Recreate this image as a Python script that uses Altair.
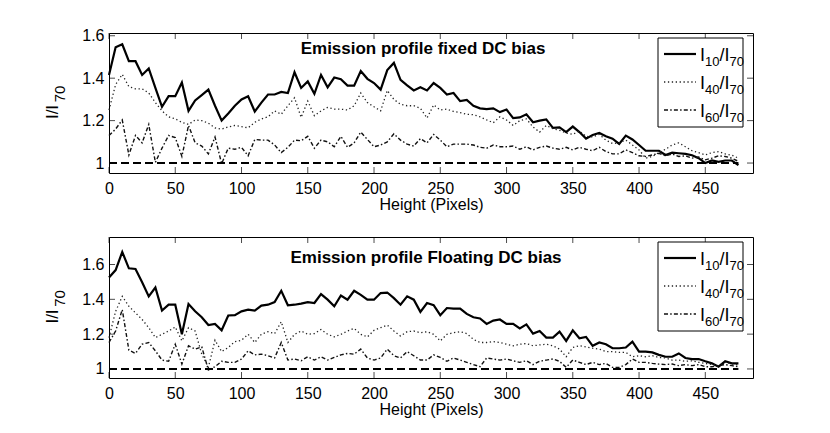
import altair as alt
import pandas as pd

FONT = "Liberation Sans"

HEIGHT = [0, 5, 10, 15, 20, 25, 30, 35, 40, 45, 50, 55, 60, 65, 70, 75, 80, 85, 90, 95,
          100, 105, 110, 115, 120, 125, 130, 135, 140, 145, 150, 155, 160, 165, 170, 175,
          180, 185, 190, 195, 200, 205, 210, 215, 220, 225, 230, 235, 240, 245, 250, 255,
          260, 265, 270, 275, 280, 285, 290, 295, 300, 305, 310, 315, 320, 325, 330, 335,
          340, 345, 350, 355, 360, 365, 370, 375, 380, 385, 390, 395, 400, 405, 410, 415,
          420, 425, 430, 435, 440, 445, 450, 455, 460, 465, 470, 475]

TOP_I10 = [1.415, 1.546, 1.56, 1.48, 1.48, 1.415, 1.446, 1.354, 1.265, 1.315,
           1.315, 1.38, 1.246, 1.295, 1.32, 1.346, 1.27, 1.2, 1.234, 1.27,
           1.3, 1.315, 1.243, 1.285, 1.323, 1.323, 1.335, 1.33, 1.428, 1.354,
           1.385, 1.326, 1.415, 1.357, 1.403, 1.395, 1.365, 1.365, 1.434, 1.397,
           1.377, 1.346, 1.438, 1.472, 1.392, 1.366, 1.342, 1.357, 1.342, 1.377,
           1.354, 1.323, 1.33, 1.292, 1.297, 1.27, 1.258, 1.254, 1.258, 1.24,
           1.252, 1.212, 1.215, 1.23, 1.192, 1.2, 1.206, 1.166, 1.168, 1.146,
           1.172, 1.146, 1.115, 1.132, 1.142, 1.126, 1.115, 1.09, 1.129, 1.111,
           1.085, 1.058, 1.058, 1.058, 1.038, 1.049, 1.046, 1.043, 1.037, 1.023,
           1.0, 1.012, 1.006, 1.012, 1.012, 0.99]
TOP_I40 = [1.25, 1.37, 1.418, 1.36, 1.35, 1.35, 1.33, 1.285, 1.246, 1.218,
           1.208, 1.192, 1.182, 1.203, 1.2, 1.188, 1.166, 1.16, 1.17, 1.177,
           1.172, 1.166, 1.192, 1.208, 1.218, 1.246, 1.23, 1.27, 1.308, 1.215,
           1.292, 1.223, 1.246, 1.262, 1.254, 1.254, 1.25, 1.27, 1.33, 1.285,
           1.265, 1.246, 1.342, 1.3, 1.277, 1.27, 1.27, 1.258, 1.212, 1.274,
           1.25, 1.254, 1.243, 1.238, 1.23, 1.228, 1.218, 1.203, 1.19, 1.218,
           1.203, 1.177, 1.2, 1.208, 1.17, 1.146, 1.177, 1.162, 1.154, 1.142,
           1.135, 1.151, 1.126, 1.123, 1.135, 1.108, 1.092, 1.095, 1.108, 1.085,
           1.062, 1.023, 1.031, 1.049, 1.065, 1.085, 1.095, 1.077, 1.058, 1.049,
           1.038, 1.049, 1.054, 1.043, 1.037, 1.023]
TOP_I60 = [1.13, 1.16, 1.203, 1.038, 1.13, 1.095, 1.182, 1.003, 1.07, 1.13,
           1.12, 1.031, 1.177, 1.095, 1.08, 1.043, 1.123, 0.997, 1.07, 1.065,
           1.074, 1.034, 1.111, 1.108, 1.108, 1.085, 1.049, 1.074, 1.108, 1.105,
           1.126, 1.07, 1.108, 1.1, 1.077, 1.126, 1.074, 1.095, 1.146, 1.111,
           1.077, 1.085, 1.1, 1.138, 1.108, 1.089, 1.08, 1.115, 1.095, 1.135,
           1.108, 1.077, 1.089, 1.089, 1.089, 1.085, 1.074, 1.07, 1.085, 1.077,
           1.077, 1.08, 1.065, 1.077, 1.062, 1.074, 1.08, 1.07, 1.065, 1.074,
           1.062, 1.074, 1.065, 1.058, 1.074, 1.054, 1.043, 1.043, 1.062, 1.049,
           1.034, 1.031, 1.038, 1.046, 1.034, 1.043, 1.031, 1.034, 1.023, 1.028,
           1.015, 1.023, 1.034, 1.031, 1.023, 1.008]

BOT_I10 = [1.525, 1.568, 1.672, 1.578, 1.574, 1.498, 1.417, 1.468, 1.335, 1.369,
           1.369, 1.199, 1.373, 1.331, 1.297, 1.252, 1.259, 1.222, 1.307, 1.309,
           1.331, 1.341, 1.335, 1.364, 1.369, 1.384, 1.449, 1.366, 1.369, 1.375,
           1.384, 1.379, 1.43, 1.398, 1.36, 1.422, 1.398, 1.449, 1.426, 1.398,
           1.398, 1.436, 1.439, 1.407, 1.369, 1.417, 1.398, 1.328, 1.379, 1.366,
           1.309, 1.35, 1.347, 1.347, 1.316, 1.297, 1.29, 1.259, 1.278, 1.284,
           1.259, 1.259, 1.233, 1.256, 1.203, 1.218, 1.18, 1.18, 1.214, 1.161,
           1.222, 1.176, 1.184, 1.133, 1.152, 1.142, 1.119, 1.119, 1.123, 1.157,
           1.1, 1.1, 1.095, 1.081, 1.07, 1.07, 1.089, 1.063, 1.057, 1.057,
           1.044, 1.032, 1.013, 1.044, 1.032, 1.032]
BOT_I40 = [1.18, 1.331, 1.417, 1.36, 1.322, 1.284, 1.237, 1.18, 1.199, 1.218,
           1.241, 1.161, 1.237, 1.218, 1.085, 1.009, 1.165, 1.1, 1.123, 1.157,
           1.165, 1.199, 1.152, 1.199, 1.214, 1.203, 1.271, 1.152, 1.199, 1.218,
           1.199, 1.203, 1.227, 1.199, 1.184, 1.199, 1.218, 1.233, 1.199, 1.184,
           1.222, 1.237, 1.252, 1.218, 1.189, 1.214, 1.218, 1.208, 1.214, 1.199,
           1.161, 1.199, 1.208, 1.214, 1.203, 1.17, 1.152, 1.152, 1.157, 1.152,
           1.142, 1.133, 1.142, 1.146, 1.133, 1.138, 1.142, 1.133, 1.114, 1.07,
           1.123, 1.133, 1.127, 1.119, 1.114, 1.1, 1.1, 1.095, 1.095, 1.07,
           1.076, 1.07, 1.076, 1.066, 1.063, 1.051, 1.051, 1.044, 1.047, 1.038,
           1.032, 1.025, 1.019, 1.038, 1.028, 1.025]
BOT_I60 = [1.152, 1.218, 1.341, 1.108, 1.089, 1.142, 1.152, 1.104, 1.051, 1.044,
           1.142, 1.028, 1.133, 1.114, 1.127, 0.994, 1.013, 1.044, 1.038, 1.038,
           1.057, 1.104, 1.081, 1.085, 1.076, 1.063, 1.152, 1.051, 1.057, 1.047,
           1.07, 1.051, 1.07, 1.051, 1.066, 1.081, 1.089, 1.085, 1.114, 1.063,
           1.051, 1.063, 1.114, 1.076, 1.063, 1.1, 1.076, 1.051, 1.051, 1.081,
           1.066, 1.044, 1.063, 1.051, 1.038, 1.025, 1.013, 1.063, 1.057, 1.051,
           1.057, 1.047, 1.038, 1.047, 1.025, 1.044, 1.051, 1.057, 1.044, 1.009,
           1.051, 1.038, 1.025, 1.038, 1.025, 1.032, 1.009, 1.009, 1.025, 1.057,
           1.038, 1.038, 1.032, 1.028, 1.025, 1.028, 1.019, 1.025, 1.019, 1.025,
           1.013, 1.013, 1.019, 1.025, 1.019, 1.013]

REF_X = [0, 475]
REF_Y = [1, 1]
X_TICKS = [0, 50, 100, 150, 200, 250, 300, 350, 400, 450]
Y_TICKS = [1, 1.2, 1.4, 1.6]
SERIES = ["I10", "I40", "I60"]
TITLES = ["Emission profile fixed DC bias", "Emission profile Floating DC bias"]

W = 644
ONE = pd.DataFrame({"a": [0]})

STYLES = {
    "I10": dict(color="black", strokeWidth=2.2),
    "I40": dict(color="#222222", strokeWidth=1.3, strokeDash=[1.3, 2.6]),
    "I60": dict(color="#111111", strokeWidth=1.4, strokeDash=[4, 2.2, 1.5, 2.2]),
}


def txt(s, x, y, size=16, weight="normal", align="left", angle=0):
    return alt.Chart(ONE).mark_text(
        text=s, font=FONT, fontSize=size, fontWeight=weight, align=align,
        baseline="alphabetic", angle=angle, color="black"
    ).encode(x=alt.value(x), y=alt.value(y))


def panel(values, title, ydom, H, title_x, title_y):
    df = pd.DataFrame({
        "x": HEIGHT * 3,
        "v": values[0] + values[1] + values[2],
        "s": [SERIES[0]] * len(HEIGHT) + [SERIES[1]] * len(HEIGHT) + [SERIES[2]] * len(HEIGHT),
    })
    xs = alt.Scale(domain=[0, 486], nice=False, zero=False)
    ys = alt.Scale(domain=ydom, nice=False, zero=False)
    xax = alt.Axis(values=X_TICKS, ticks=False, domain=False, grid=False,
                   labelFont=FONT, labelFontSize=16, labelColor="black",
                   labelPadding=7, labelFlush=False,
                   title="Height (Pixels)", titleFont=FONT, titleFontSize=16,
                   titleFontWeight="normal", titleColor="black", titlePadding=0)
    yax = alt.Axis(values=Y_TICKS, ticks=False, domain=False, grid=False,
                   labelFont=FONT, labelFontSize=16, labelColor="black",
                   labelPadding=5, labelFlush=False, format=".1~f", title=None)
    X = alt.X("x:Q", scale=xs, axis=xax)
    Y = alt.Y("v:Q", scale=ys, axis=yax)
    layers = []
    for s in SERIES:
        layers.append(
            alt.Chart(df).transform_filter(f"datum.s == '{s}'").mark_line(**STYLES[s]).encode(x=X, y=Y)
        )
    ref = alt.Chart(pd.DataFrame({"x": REF_X, "v": REF_Y})).mark_line(
        color="black", strokeWidth=2, strokeDash=[8, 4]
    ).encode(x=X, y=Y)
    layers.append(ref)

    # inward MATLAB-style ticks on all four sides
    xt = pd.DataFrame({"x": X_TICKS})
    yt = pd.DataFrame({"v": Y_TICKS})
    for yy in (H - 3, 3):
        layers.append(alt.Chart(xt).mark_tick(orient="vertical", size=6, thickness=1, color="black").encode(
            x=X, y=alt.value(yy)))
    for xx in (3, W - 3):
        layers.append(alt.Chart(yt).mark_tick(orient="horizontal", size=6, thickness=1, color="black").encode(
            y=Y, x=alt.value(xx)))

    # title inside the axes
    layers.append(txt(title, title_x, title_y, size=17, weight="bold", align="center"))

    # y-axis label I/I_70 (subscript shifted toward the axis)
    layers.append(txt("I/I", -51, H / 2 + 9, size=17, align="center", angle=270))
    layers.append(txt("70", -44, H / 2 - 9, size=15, align="center", angle=270))

    # legend box
    layers.append(alt.Chart(ONE).mark_rect(fill="white", stroke="black", strokeWidth=1).encode(
        x=alt.value(549), x2=alt.value(634), y=alt.value(5), y2=alt.value(94)))
    rows = [21, 49, 77]
    subs = ["10", "40", "60"]
    for s, r, sub in zip(SERIES, rows, subs):
        layers.append(alt.Chart(ONE).mark_rule(**STYLES[s]).encode(
            x=alt.value(555), x2=alt.value(587), y=alt.value(r)))
        layers.append(txt("I", 591, r + 7, size=18))
        layers.append(txt(sub, 596, r + 12, size=13))
        layers.append(txt("/I", 610.5, r + 7, size=18))
        layers.append(txt("70", 620.5, r + 12, size=13))

    return alt.layer(*layers).properties(width=W, height=H)


top = panel([TOP_I10, TOP_I40, TOP_I60], TITLES[0], [0.953, 1.613], 140, 314, 21)
bottom = panel([BOT_I10, BOT_I40, BOT_I60], TITLES[1], [0.948, 1.758], 141, 317, 26)

chart = alt.vconcat(top, bottom, spacing=23).configure_view(
    stroke="black", strokeWidth=1
).properties(
    padding={"left": 35, "top": 19, "right": 5, "bottom": 5},
    background="white",
)

chart.save("out.html", embed_options={"renderer": "svg", "actions": False})
